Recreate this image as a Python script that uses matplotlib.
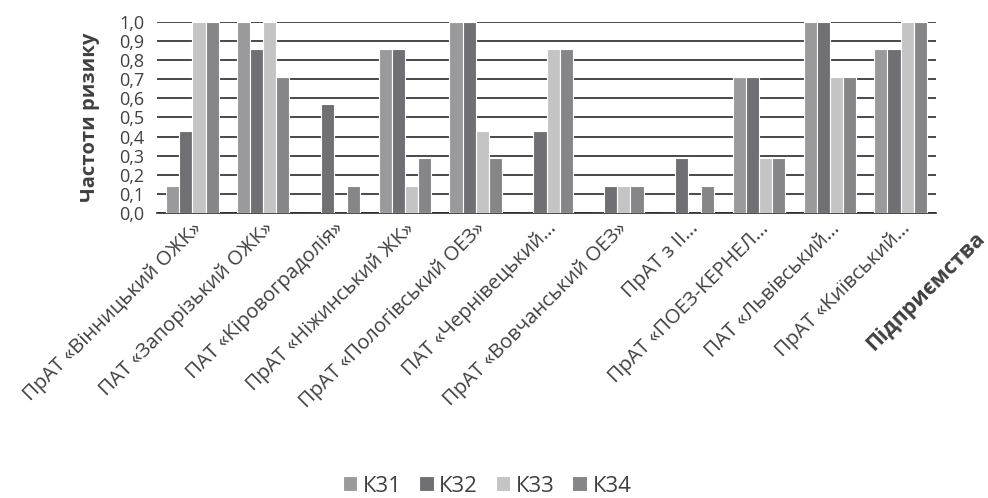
import matplotlib
matplotlib.use('Agg')
import matplotlib.pyplot as plt
import numpy as np

plt.rcParams['font.family'] = ['Open Sans', 'DejaVu Sans']

companies = ['ПрАТ «Вінницький ОЖК»', 'ПАТ «Запорізький ОЖК»', 'ПАТ «Кіровоградолія»',
             'ПрАТ «Ніжинський ЖК»', 'ПрАТ «Пологівський ОЕЗ»', 'ПАТ «Чернівецький…',
             'ПрАТ «Вовчанський ОЕЗ»', 'ПрАТ з ІІ…', 'ПрАТ «ПОЕЗ-КЕРНЕЛ…',
             'ПАТ «Львівський…', 'ПрАТ «Київський…']
series_names = ['К31', 'К32', 'К33', 'К34']
k31 = [0.14, 1.0, 0.0, 0.86, 1.0, 0.0, 0.0, 0.0, 0.71, 1.0, 0.86]
k32 = [0.43, 0.86, 0.57, 0.86, 1.0, 0.43, 0.14, 0.29, 0.71, 1.0, 0.86]
k33 = [1.0, 1.0, 0.0, 0.14, 0.43, 0.86, 0.14, 0.0, 0.29, 0.71, 1.0]
k34 = [1.0, 0.71, 0.14, 0.29, 0.29, 0.86, 0.14, 0.14, 0.29, 0.71, 1.0]
colors = ['#9a9a9d', '#707074', '#c4c4c5', '#868689']
text_col = '#404040'

fig = plt.figure(figsize=(9.88, 4.98), dpi=100)
ax = fig.add_axes([157/988, 1 - 213/498, (936-157)/988, (213-22)/498])

x = np.arange(len(companies))
w = 0.185
for i, (vals, name) in enumerate(zip([k31, k32, k33, k34], series_names)):
    ax.bar(x + (i - 1.5) * w, vals, width=w, color=colors[i], edgecolor='white',
           linewidth=0.8, label=name, zorder=3)

ax.set_xlim(-0.5, len(companies) - 0.5)
ax.set_ylim(0, 1.0)
ax.set_yticks(np.arange(0, 1.01, 0.1))
ax.set_yticklabels([f'{v:.1f}'.replace('.', ',') for v in np.arange(0, 1.01, 0.1)],
                   fontsize=13, color=text_col)
ax.yaxis.grid(True, color='#2a2a2a', linewidth=1.2, zorder=0)
ax.tick_params(axis='y', length=0, pad=9)
ax.tick_params(axis='x', length=0, pad=4)
ax.set_xticks(x)
ax.set_xticklabels(companies, rotation=45, ha='right', va='top', rotation_mode='anchor',
                   fontsize=14.5, color=text_col)
for s in ['top', 'right', 'left']:
    ax.spines[s].set_visible(False)
ax.spines['bottom'].set_color('#2a2a2a')
ax.spines['bottom'].set_linewidth(1.2)

ax.set_ylabel('Частоти ризику', fontsize=14.5, fontweight='bold', color=text_col, labelpad=14)
fig.text(926/988, 1 - 292/498, 'Підприємства', fontsize=15.5, fontweight='bold',
         color=text_col, rotation=45, ha='center', va='center')

fig.legend(loc='center', bbox_to_anchor=(487/988, 1 - 486/498), ncol=4, frameon=False,
           fontsize=16, handlelength=0.65, handleheight=0.65, handletextpad=0.25,
           columnspacing=0.8, labelcolor=text_col)

fig.savefig('out.png', dpi=100)
